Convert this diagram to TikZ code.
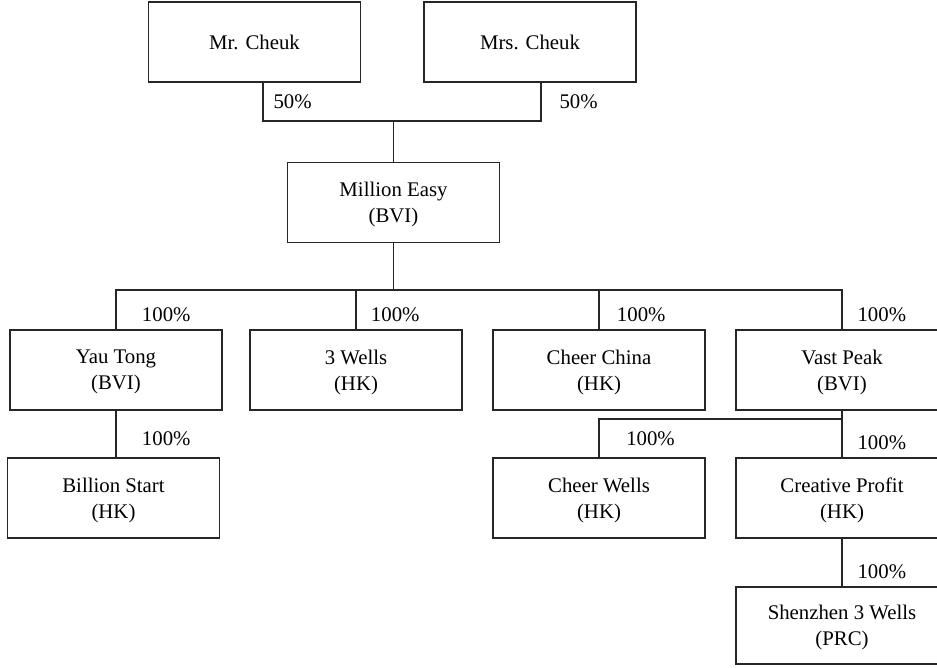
\documentclass[tikz,border=0pt]{standalone}
\usepackage{fontspec}
\setmainfont{Liberation Serif}
\begin{document}
\begin{tikzpicture}[x=0.75pt,y=-0.75pt,
  every node/.style={font=\fontsize{15.6}{19.6}\selectfont},
  entity/.style={draw=black!85,line width=0.9pt,minimum width=159pt,minimum height=60pt,inner sep=0pt,outer sep=0pt,align=center,text depth=0pt},
  pct/.style={anchor=base west,inner sep=0pt},
  link/.style={draw=black!85,line width=0.9pt}]
\clip (0,0) rectangle (937,667);
% boxes
\node[entity] (mr)  at (254.5,42)  {Mr. Cheuk};
\node[entity] (mrs) at (530,42)    {Mrs. Cheuk};
\node[entity] (me)  at (393.5,202.5) {Million Easy\\(BVI)};
\node[entity] (yt)  at (116,370)   {Yau Tong\\(BVI)};
\node[entity] (w3)  at (356,370)   {3 Wells\\(HK)};
\node[entity] (cc)  at (599,370)   {Cheer China\\(HK)};
\node[entity] (vp)  at (842,370)   {Vast Peak\\(BVI)};
\node[entity] (bs)  at (113.5,498) {Billion Start\\(HK)};
\node[entity] (cw)  at (599,498)   {Cheer Wells\\(HK)};
\node[entity] (cp)  at (842,498)   {Creative Profit\\(HK)};
\node[entity,minimum height=57.75pt] (sz) at (842,625.5) {Shenzhen 3 Wells\\(PRC)};
% junctions
\coordinate (mrj)  at (263,121);
\coordinate (mrsj) at (541,121);
\coordinate (j1)   at (393.5,121);
\coordinate (j2)   at (393.5,290);
\coordinate (j3)   at (842,419);
% connectors
\draw[link] (mrj |- mr.south) -- (mrj) -- (mrsj) -- (mrsj |- mrs.south);
\draw[link] (j1) -- (me.north);
\draw[link] (me.south) -- (j2);
\draw[link] (yt.north) |- (vp.north |- j2) -- (vp.north);
\draw[link] (w3.north) -- (w3.north |- j2);
\draw[link] (cc.north) -- (cc.north |- j2);
\draw[link] (yt.south) -- (yt.south |- bs.north);
\draw[link] (vp.south) -- (cp.north);
\draw[link] (j3) -| (cw.north);
\draw[link] (cp.south) -- (sz.north);
% percentages
\node[pct] (p1)  at (273.3,108)  {50\%};
\node[pct] (p2)  at (559.3,108)  {50\%};
\node[pct] (p3)  at (141.7,321.5) {100\%};
\node[pct] (p4)  at (370.7,321.5) {100\%};
\node[pct] (p5)  at (616.7,321.5) {100\%};
\node[pct] (p6)  at (857.3,321.5) {100\%};
\node[pct] (p7)  at (141.7,445)  {100\%};
\node[pct] (p8)  at (626,445)    {100\%};
\node[pct] (p9)  at (857.3,449.5) {100\%};
\node[pct] (p10) at (857.3,578)  {100\%};
\end{tikzpicture}
\end{document}
